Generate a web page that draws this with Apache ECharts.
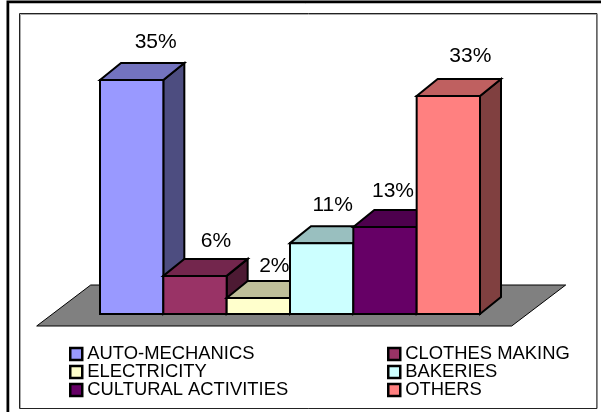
<!DOCTYPE html>
<html><head><meta charset="utf-8">
<style>html,body{margin:0;padding:0;background:#fff}#c{width:601px;height:412px}</style>
<script src="https://cdn.jsdelivr.net/npm/echarts@6/dist/echarts.min.js"></script>
</head><body><div id="c"></div>
<script>
const categories = ['AUTO-MECHANICS','CLOTHES MAKING','ELECTRICITY','BAKERIES','CULTURAL ACTIVITIES','OTHERS'];
const barValues = [35, 5.7, 2.4, 10.6, 13, 32.6];
const valueLabels = ['35%','6%','2%','11%','13%','33%'];
const frontColors = ['#9999FF','#993366','#FFFFCC','#CCFFFF','#660066','#FF8080'];
const topColors = ['#7373BF','#73264D','#BFBF99','#99BFBF','#4D004D','#BF6060'];
const sideColors = ['#4D4D80','#4D1A33','#808066','#668080','#330033','#804040'];
const labelNudge = [[3,-21],[0,-18],[-5,-15],[-10,-21],[-13,-19],[1,-23]];

const DX = 21, DY = -17;
const FONT = '"Liberation Sans", Arial, sans-serif';
const edge = {stroke:'#000', lineWidth:2, lineJoin:'miter'};

function barRenderer(i){
  return function(params, api){
    const band = api.size([1,0])[0];
    const c = api.coord([api.value(0), api.value(1)]);
    const b = api.coord([api.value(0), 0]);
    const x0 = c[0]-band/2, x1 = c[0]+band/2, yT = c[1], yB = b[1];
    const n = labelNudge[i];
    return {type:'group', children:[
      {type:'polygon', shape:{points:[[x1,yT],[x1+DX,yT+DY],[x1+DX,yB+DY],[x1,yB]]}, style:Object.assign({fill:sideColors[i]},edge)},
      {type:'polygon', shape:{points:[[x0,yT],[x0+DX,yT+DY],[x1+DX,yT+DY],[x1,yT]]}, style:Object.assign({fill:topColors[i]},edge)},
      {type:'rect', shape:{x:x0,y:yT,width:x1-x0,height:yB-yT}, style:Object.assign({fill:frontColors[i]},edge)},
      {type:'text', style:{text:valueLabels[i], x:c[0]+DX+n[0], y:yT+DY+n[1], fill:'#000', font:'21px '+FONT, textAlign:'center', textVerticalAlign:'middle'}}
    ]};
  };
}
function floorRenderer(params, api){
  const band = api.size([1,0])[0];
  const l = api.coord([0,0]), r = api.coord([categories.length-1,0]);
  const left = l[0]-band/2-0.75*band, right = r[0]+band/2+0.75*band, y = l[1];
  const sx = 54/41;
  const front = 12, back = 29;
  return {type:'polygon', shape:{points:[
    [left-front*sx,y+front],[left+back*sx,y-back],[right+back*sx,y-back],[right-front*sx,y+front]
  ]}, style:{fill:'#808080', stroke:'#000', lineWidth:1}};
}
const series = [{type:'custom', name:'floor', silent:true, z:1, data:[[0,0]], renderItem:floorRenderer, clip:false}];
categories.forEach((name,i)=>{
  series.push({type:'custom', name, z:2+i, silent:true, clip:false,
    itemStyle:{color:frontColors[i]},
    encode:{x:0,y:1}, data:[[i,barValues[i]]], renderItem:barRenderer(i)});
});
function legendOf(idx,left){
  return {show:true, orient:'vertical', left, top:345, padding:0, itemGap:0, itemWidth:12, itemHeight:12,
    selectedMode:false, icon:'rect',
    itemStyle:{borderColor:'#000',borderWidth:2},
    textStyle:{fontFamily:FONT,fontSize:18.4,color:'#000',lineHeight:18},
    data:idx.map(i=>({name:categories[i],icon:'rect',itemStyle:{color:frontColors[i],borderColor:'#000',borderWidth:2.5}}))};
}
const chart = echarts.init(document.getElementById('c'),null,{renderer:'canvas'});
chart.setOption({
  animation:false, backgroundColor:'#fff',
  grid:{left:100,top:80,width:380,height:234},
  xAxis:{type:'category',data:categories,show:false,boundaryGap:true},
  yAxis:{type:'value',min:0,max:35,show:false},
  legend:[legendOf([0,2,4],69),legendOf([1,3,5],387)],
  series,
  graphic:[
    {type:'rect',z:0,silent:true,shape:{x:8,y:2,width:600,height:500},style:{fill:'none',stroke:'#000',lineWidth:3}},
    {type:'rect',z:0,silent:true,shape:{x:9.5,y:3.5,width:600,height:500},style:{fill:'none',stroke:'#bbb',lineWidth:1}},
    {type:'rect',z:0,silent:true,shape:{x:20.5,y:14.5,width:576,height:394},style:{fill:'none',stroke:'#aaa',lineWidth:1}},
    {type:'rect',z:0,silent:true,shape:{x:19.5,y:13.5,width:577.5,height:395},style:{fill:'none',stroke:'#222',lineWidth:1}}
  ]
});
</script></body></html>
